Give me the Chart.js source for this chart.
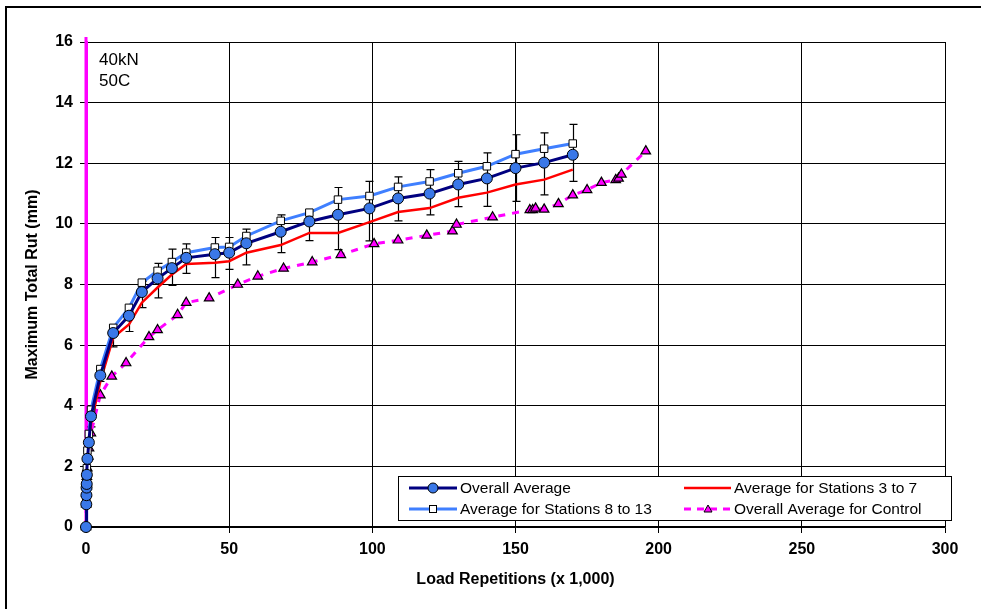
<!DOCTYPE html>
<html>
<head>
<meta charset="utf-8">
<script src="https://cdn.jsdelivr.net/npm/chart.js@4/dist/chart.umd.min.js"></script>
<style>
  body { margin: 0; background: #fff; }
  #wrap { width: 981px; height: 609px; }
</style>
</head>
<body>
<div id="wrap"><canvas id="myChart" width="981" height="609"></canvas></div>
<script>
// load repetitions (x 1,000) for the test section averages
const loadAvg = [0, 0.1, 0.15, 0.2, 0.25, 0.3, 0.5, 1, 1.75, 5, 9.5, 15, 19.5, 25, 30, 35, 45, 50, 56, 68, 78, 88, 99, 109, 120, 130, 140, 150, 160, 170];
const rutAvg = [0, 0.75, 1.05, 1.3, 1.42, 1.72, 2.25, 2.79, 3.65, 5.0, 6.4, 6.97, 7.75, 8.2, 8.54, 8.88, 9.0, 9.05, 9.36, 9.74, 10.08, 10.3, 10.51, 10.84, 11.0, 11.3, 11.5, 11.84, 12.02, 12.28];
const rutHi = [0, 0.8, 1.1, 1.35, 1.5, 1.8, 2.35, 2.9, 3.9, 5.2, 6.62, 7.1, 8.1, 8.7, 9.17, 9.34, 9.55, 9.55, 9.83, 10.3, 10.4, 11.2, 11.4, 11.55, 11.79, 12.06, 12.34, 12.94, 13.0, 13.28];
const rutLo = [0, 0.7, 1.0, 1.25, 1.35, 1.65, 2.15, 2.7, 3.3, 4.8, 5.94, 6.45, 7.24, 7.56, 7.97, 8.37, 8.23, 8.5, 8.65, 9.05, 9.45, 9.15, 9.44, 10.1, 10.3, 10.57, 10.58, 10.74, 10.96, 11.4];
const rut813 = [0, 0.8, 1.15, 1.45, 1.55, 1.94, 2.52, 3.07, 3.87, 5.21, 6.57, 7.23, 8.06, 8.45, 8.74, 9.05, 9.22, 9.24, 9.6, 10.1, 10.37, 10.8, 10.92, 11.22, 11.4, 11.67, 11.9, 12.3, 12.48, 12.65];
const rut37 = [0, 0.7, 1.0, 1.2, 1.35, 1.6, 2.05, 2.6, 3.4, 4.8, 6.25, 6.68, 7.4, 7.9, 8.33, 8.68, 8.72, 8.77, 9.05, 9.3, 9.7, 9.7, 10.06, 10.39, 10.52, 10.86, 11.03, 11.3, 11.46, 11.79];

// control section
const ctlLoad = [0, 0.1, 0.15, 0.2, 0.3, 0.45, 0.8, 1.05, 1.7, 5, 9, 14, 22, 25, 32, 35, 43, 53, 60, 69, 79, 89, 100.6, 109, 119, 128, 129.4, 142, 155, 156, 157, 160, 165, 170, 175, 180, 185, 186, 187, 195.5];
const ctlRut = [0, 0.75, 1.1, 1.35, 1.66, 1.94, 2.33, 2.6, 3.1, 4.35, 4.97, 5.41, 6.27, 6.5, 7.0, 7.4, 7.55, 8.0, 8.27, 8.53, 8.74, 8.98, 9.34, 9.46, 9.62, 9.76, 9.98, 10.22, 10.46, 10.46, 10.51, 10.48, 10.66, 10.95, 11.12, 11.36, 11.45, 11.5, 11.63, 12.4];

const xTicks = [0, 50, 100, 150, 200, 250, 300];
const yTicks = [0, 2, 4, 6, 8, 10, 12, 14, 16];
const notes = ['40kN', '50C'];

const FONT = '"Liberation Sans", Arial, sans-serif';
const NAVY = '#000080', BLUE = '#3A78E8', LIGHT = '#3F7FFF', RED = '#FF0000', MAG = '#FF00FF';

function pts(xs, ys) {
    return xs.map((x, i) => ({x: x, y: ys[i]}));
}

const extras = {
    id: 'extras',
    beforeDraw(chart) {
        const ctx = chart.ctx;
        ctx.save();
        ctx.fillStyle = '#fff';
        ctx.fillRect(0, 0, chart.width, chart.height);
        ctx.restore();
    },
    beforeDatasetsDraw(chart) {
        const ctx = chart.ctx, xs = chart.scales.x, ys = chart.scales.y;
        const a = chart.chartArea;
        ctx.save();
        // magenta line at x = 0 runs a bit past the top
        ctx.strokeStyle = MAG;
        ctx.lineWidth = 3;
        ctx.beginPath();
        ctx.moveTo(a.left, a.top - 5);
        ctx.lineTo(a.left, a.bottom);
        ctx.stroke();
        // error bars on overall average
        ctx.strokeStyle = '#000';
        ctx.lineWidth = 1.2;
        loadAvg.forEach((x, i) => {
            if (rutHi[i] - rutLo[i] < 0.25) return;
            const px = Math.round(xs.getPixelForValue(x)) + 0.5;
            const y1 = ys.getPixelForValue(rutHi[i]), y2 = ys.getPixelForValue(rutLo[i]);
            ctx.beginPath();
            ctx.moveTo(px, y1); ctx.lineTo(px, y2);
            ctx.moveTo(px - 4, y1); ctx.lineTo(px + 4, y1);
            ctx.moveTo(px - 4, y2); ctx.lineTo(px + 4, y2);
            ctx.stroke();
        });
        ctx.restore();
    },
    afterDraw(chart) {
        const ctx = chart.ctx;
        ctx.save();
        // outer frame
        ctx.strokeStyle = '#000';
        ctx.lineWidth = 2;
        ctx.strokeRect(6, 7, 1100, 1100);
        // annotation
        ctx.fillStyle = '#000';
        ctx.font = '17px ' + FONT;
        ctx.textBaseline = 'alphabetic';
        ctx.fillText(notes[0], 99, 65);
        ctx.fillText(notes[1], 99, 86);
        // legend
        ctx.fillStyle = '#fff';
        ctx.fillRect(398, 476, 554, 44);
        ctx.lineWidth = 1;
        ctx.strokeRect(398.5, 476.5, 553, 44);
        const r1 = 488, r2 = 509;
        ctx.lineWidth = 3;
        ctx.strokeStyle = NAVY;
        ctx.beginPath(); ctx.moveTo(409, r1); ctx.lineTo(457, r1); ctx.stroke();
        ctx.strokeStyle = LIGHT;
        ctx.beginPath(); ctx.moveTo(409, r2); ctx.lineTo(457, r2); ctx.stroke();
        ctx.strokeStyle = RED;
        ctx.lineWidth = 2.5;
        ctx.beginPath(); ctx.moveTo(684, r1); ctx.lineTo(731, r1); ctx.stroke();
        ctx.strokeStyle = MAG;
        ctx.lineWidth = 3;
        ctx.setLineDash([7, 6]);
        ctx.beginPath(); ctx.moveTo(684, r2); ctx.lineTo(731, r2); ctx.stroke();
        ctx.setLineDash([]);
        ctx.lineWidth = 1;
        ctx.strokeStyle = '#000';
        ctx.fillStyle = BLUE;
        ctx.beginPath(); ctx.arc(433, r1, 5, 0, Math.PI * 2); ctx.fill(); ctx.stroke();
        ctx.fillStyle = '#fff';
        ctx.fillRect(429.5, r2 - 3.5, 7, 7);
        ctx.strokeRect(429.5, r2 - 3.5, 7, 7);
        ctx.fillStyle = MAG;
        ctx.beginPath();
        ctx.moveTo(708, r2 - 4); ctx.lineTo(712, r2 + 3); ctx.lineTo(704, r2 + 3); ctx.closePath();
        ctx.fill(); ctx.stroke();
        ctx.fillStyle = '#000';
        ctx.font = '15.5px ' + FONT;
        ctx.textBaseline = 'middle';
        ctx.fillText('Overall Average', 460, r1 + 1);
        ctx.fillText('Average for Stations 8 to 13', 460, r2 + 1);
        ctx.fillText('Average for Stations 3 to 7', 734, r1 + 1);
        ctx.fillText('Overall Average for Control', 734, r2 + 1);
        ctx.restore();
    }
};

const ctx = document.getElementById('myChart').getContext('2d');
new Chart(ctx, {
    type: 'line',
    data: {
        datasets: [
            {
                label: 'Overall Average',
                data: pts(loadAvg, rutAvg),
                borderColor: NAVY,
                borderWidth: 3,
                pointStyle: 'circle',
                pointRadius: 5.5,
                pointBackgroundColor: BLUE,
                pointBorderColor: '#000',
                pointBorderWidth: 1,
                clip: false
            },
            {
                label: 'Average for Stations 8 to 13',
                data: pts(loadAvg, rut813),
                borderColor: LIGHT,
                borderWidth: 3,
                pointStyle: 'rect',
                pointRadius: 5.3,
                pointBackgroundColor: '#fff',
                pointBorderColor: '#000',
                pointBorderWidth: 1,
                clip: false
            },
            {
                label: 'Average for Stations 3 to 7',
                data: pts(loadAvg, rut37),
                borderColor: RED,
                borderWidth: 2.5,
                pointRadius: 0,
                clip: false
            },
            {
                label: 'Overall Average for Control',
                data: pts(ctlLoad, ctlRut),
                borderColor: MAG,
                borderWidth: 3,
                borderDash: [7, 7],
                pointStyle: 'triangle',
                pointRadius: 5.5,
                pointBackgroundColor: MAG,
                pointBorderColor: '#000',
                pointBorderWidth: 1.2,
                clip: false
            }
        ]
    },
    options: {
        responsive: false,
        animation: false,
        layout: { padding: { left: 0, top: 42, right: 36, bottom: 0 } },
        plugins: { legend: { display: false }, tooltip: { enabled: false } },
        elements: { line: { tension: 0 } },
        scales: {
            x: {
                type: 'linear',
                min: 0, max: 300,
                afterBuildTicks: (s) => { s.ticks = xTicks.map(v => ({value: v})); },
                afterFit: (s) => { s.height = 82; },
                grid: { color: '#000', lineWidth: 1, tickLength: 6, tickColor: '#000' },
                border: { color: '#000', width: 1.5 },
                ticks: { color: '#000', padding: 7, maxRotation: 0, font: { family: FONT, size: 16, weight: 'bold' } },
                title: { display: true, text: 'Load Repetitions (x 1,000)', color: '#000', padding: { top: 0, bottom: 20 }, font: { family: FONT, size: 16, weight: 'bold' } }
            },
            y: {
                min: 0, max: 16,
                afterBuildTicks: (s) => { s.ticks = yTicks.map(v => ({value: v})); },
                afterFit: (s) => { s.width = 86; },
                grid: { color: '#000', lineWidth: 1, tickLength: 6, tickColor: '#000' },
                border: { color: MAG, width: 3 },
                ticks: { color: '#000', padding: 7, font: { family: FONT, size: 16, weight: 'bold' } },
                title: { display: true, text: 'Maximum Total Rut (mm)', color: '#000', padding: { top: 23, bottom: 0 }, font: { family: FONT, size: 16, weight: 'bold' } }
            }
        }
    },
    plugins: [extras]
});
</script>
</body>
</html>
